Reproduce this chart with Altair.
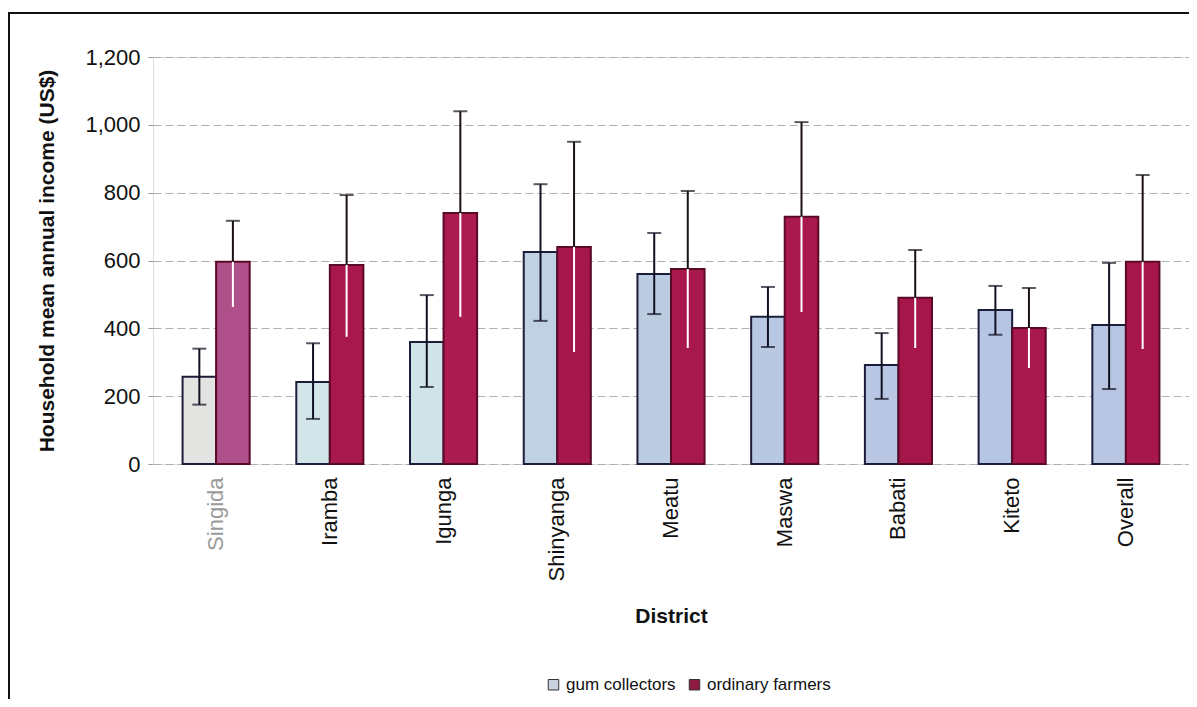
import altair as alt
import pandas as pd

districts = ["Singida", "Iramba", "Igunga", "Shinyanga", "Meatu", "Maswa", "Babati", "Kiteto", "Overall"]
series = ["gum collectors", "ordinary farmers"]

gum_mean = [257, 242, 360, 625, 560, 434, 292, 454, 410]
gum_low = [175, 133, 227, 422, 442, 345, 192, 381, 221]
gum_high = [340, 356, 498, 825, 681, 522, 386, 525, 593]

farm_mean = [596, 587, 740, 640, 575, 729, 490, 401, 596]
farm_low = [463, 375, 434, 330, 342, 448, 342, 283, 339]
farm_high = [717, 793, 1040, 950, 805, 1008, 631, 519, 852]

gum_fill = ["#e3e3e1", "#d2e6ea", "#cfe3e8", "#bfd1e3", "#bccde2", "#b8c8e3", "#b9c7e4", "#b7c5e4", "#b8c6e3"]
farm_fill = ["#b0508a", "#a8184c", "#ab1b4f", "#a6174b", "#a8184c", "#a9194d", "#a6164a", "#a8184c", "#a7174b"]
legend_colors = ["#c9d3df", "#8e1a40"]
y_ticks = [0, 200, 400, 600, 800, 1000, 1200]

rows = []
for i, d in enumerate(districts):
    rows.append(dict(district=d, series=series[0], mean=gum_mean[i], low=gum_low[i],
                     high=gum_high[i], fillcol=gum_fill[i], strokecol="#1c1c3c"))
    rows.append(dict(district=d, series=series[1], mean=farm_mean[i], low=farm_low[i],
                     high=farm_high[i], fillcol=farm_fill[i], strokecol="#5a0a26"))
df = pd.DataFrame(rows)

FONT = "Liberation Sans"

x_enc = alt.X("district:N", sort=districts,
              scale=alt.Scale(paddingInner=0.41, paddingOuter=0.26),
              axis=alt.Axis(title="District", labelAngle=-90, labelFontSize=22, labelFont=FONT,
                            labelColor=alt.expr("datum.value == 'Singida' ? '#9a9a9a' : '#111111'"),
                            labelPadding=13, titleFontSize=21, titleFont=FONT, titleFontWeight="bold",
                            titlePadding=25, titleColor="#111111", ticks=False, domain=False, grid=False))
xo = alt.XOffset("series:N", sort=series, scale=alt.Scale(paddingInner=0, paddingOuter=0))
y_scale = alt.Scale(domain=[0, 1200], nice=False)

bars = alt.Chart(df).mark_bar(strokeWidth=2).encode(
    x=x_enc,
    xOffset=xo,
    y=alt.Y("mean:Q", scale=y_scale,
            axis=alt.Axis(title="Household mean annual income (US$)", values=y_ticks, format=",.0f",
                          labelFontSize=22, labelFont=FONT, labelColor="#111111", labelPadding=8,
                          tickSize=5, tickColor="#999999", domain=False,
                          grid=True, gridColor="#b0b0b0", gridDash=[8, 4], gridWidth=1,
                          titleFontSize=21, titleFont=FONT, titleFontWeight="bold",
                          titlePadding=27, titleColor="#111111")),
    fill=alt.Fill("fillcol:N", scale=None),
    stroke=alt.Stroke("strokecol:N", scale=None),
)

gum = df[df.series == series[0]]
farm = df[df.series == series[1]]

gum_rule = alt.Chart(gum).mark_rule(color="#111122", strokeWidth=2).encode(
    x=alt.X("district:N", sort=districts), xOffset=xo,
    y=alt.Y("low:Q", scale=y_scale), y2="high:Q")
gum_cap_hi = alt.Chart(gum).mark_tick(color="#111122", thickness=2, size=14).encode(
    x=alt.X("district:N", sort=districts), xOffset=xo, y=alt.Y("high:Q", scale=y_scale))
gum_cap_lo = alt.Chart(gum).mark_tick(color="#111122", thickness=2, size=14).encode(
    x=alt.X("district:N", sort=districts), xOffset=xo, y=alt.Y("low:Q", scale=y_scale))

farm_rule_up = alt.Chart(farm).mark_rule(color="#1a1111", strokeWidth=2).encode(
    x=alt.X("district:N", sort=districts), xOffset=xo,
    y=alt.Y("mean:Q", scale=y_scale), y2="high:Q")
farm_cap_hi = alt.Chart(farm).mark_tick(color="#1a1111", thickness=2, size=14).encode(
    x=alt.X("district:N", sort=districts), xOffset=xo, y=alt.Y("high:Q", scale=y_scale))
farm_rule_dn = alt.Chart(farm).mark_rule(color="#ffffff", strokeWidth=2).encode(
    x=alt.X("district:N", sort=districts), xOffset=xo,
    y=alt.Y("low:Q", scale=y_scale), y2="mean:Q")

legend_layer = alt.Chart(df).mark_point(shape="square", filled=True, opacity=0).encode(
    x=alt.X("district:N", sort=districts), xOffset=xo,
    y=alt.Y("mean:Q", scale=y_scale),
    color=alt.Color("series:N", sort=series,
                    scale=alt.Scale(domain=series, range=legend_colors),
                    legend=alt.Legend(title=None, orient="none", direction="horizontal",
                                      legendX=392, legendY=619, symbolType="square",
                                      symbolSize=110, symbolOpacity=1, symbolStrokeColor="#333333",
                                      symbolStrokeWidth=1, labelFontSize=17, labelFont=FONT,
                                      labelColor="#111111", columnPadding=10, labelOffset=4)))

frame = alt.Chart(df).mark_rect(fill=None, stroke="#111111", strokeWidth=2).encode(
    x=alt.value(-144), x2=alt.value(1300), y=alt.value(-44), y2=alt.value(900))

chart = alt.layer(bars, gum_rule, gum_cap_hi, gum_cap_lo, farm_rule_up, farm_cap_hi,
                  farm_rule_dn, legend_layer, frame).properties(
    width=1036, height=407,
    autosize=alt.AutoSizeParams(type="none"),
    padding={"left": 145, "top": 49, "right": 0, "bottom": 235},
).configure_view(stroke=None).configure(background="white")

chart.save("out.html", embed_options={"renderer": "svg", "actions": False})
